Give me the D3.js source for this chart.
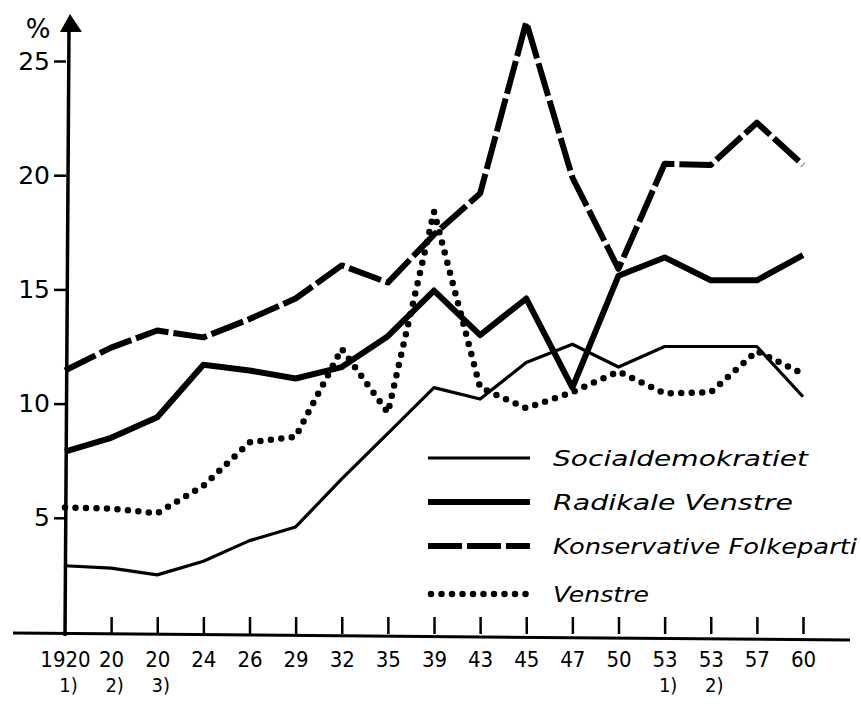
<!DOCTYPE html>
<html>
<head>
<meta charset="utf-8">
<script src="https://cdn.jsdelivr.net/npm/d3@7"></script>
<style>
  body { margin: 0; background: #fff; }
  svg { display: block; }
  .tick text { font-family: "DejaVu Sans", sans-serif; fill: #000; }
  .x-label { font-family: "DejaVu Sans Condensed", "DejaVu Sans", sans-serif; font-stretch: condensed; }
  .legend-label { font-family: "DejaVu Sans", sans-serif; font-style: italic; font-size: 21px; }
</style>
</head>
<body>
<svg id="chart" width="861" height="704"></svg>
<script>
// election years (with sub-election notes)
const years = ['1920', '20', '20', '24', '26', '29', '32', '35', '39', '43', '45', '47', '50', '53', '53', '57', '60']
const notes = ['1)', '2)', '3)', '', '', '', '', '', '', '', '', '', '', '1)', '2)', '', '']
const yTicks = [5, 10, 15, 20, 25]

// share of votes, %
const socialdemokratiet = [2.9, 2.8, 2.5, 3.1, 4.0, 4.6, 6.7, 8.7, 10.7, 10.2, 11.8, 12.6, 11.6, 12.5, 12.5, 12.5, 10.3]
const radikaleVenstre = [7.9, 8.5, 9.4, 11.7, 11.45, 11.1, 11.6, 12.95, 14.95, 13.0, 14.6, 10.7, 15.6, 16.4, 15.4, 15.4, 16.5]
const konservative = [11.45, 12.45, 13.2, 12.9, 13.7, 14.6, 16.05, 15.3, 17.4, 19.2, 26.7, 19.9, 15.9, 20.5, 20.45, 22.3, 20.45]
const venstre = [5.45, 5.4, 5.2, 6.4, 8.3, 8.55, 12.4, 9.6, 18.4, 10.7, 9.8, 10.5, 11.4, 10.45, 10.5, 12.3, 11.3]

const series = [
    { name: 'Socialdemokratiet', values: socialdemokratiet, width: 3.2, dash: null, cap: 'butt' },
    { name: 'Radikale Venstre', values: radikaleVenstre, width: 6, dash: null, cap: 'butt' },
    { name: 'Konservative Folkeparti', values: konservative, width: 6, dash: '34 5', cap: 'butt' },
    { name: 'Venstre', values: venstre, width: 6.5, dash: '0 10.5', cap: 'round' }
]

const svg = d3.select('#chart')
const idx = d3.range(years.length)

const x = d3.scalePoint().domain(idx).range([65, 803])
const y = d3.scaleLinear().domain([0, 25]).range([632, 61])

// x axis, ticks pointing up
const xAxis = d3.axisBottom(x)
    .tickSizeInner(-17)
    .tickSizeOuter(0)
    .tickPadding(0)
    .tickFormat(i => years[i])

const gx = svg.append('g')
    .attr('transform', 'translate(0,634)')
    .call(xAxis)
gx.select('.domain').remove()
gx.selectAll('.tick line').attr('stroke', '#000').attr('stroke-width', 2.5)
gx.selectAll('.tick text')
    .attr('class', 'x-label')
    .attr('font-size', 22)
    .attr('y', 33)
    .attr('dy', 0)
gx.selectAll('.tick').filter(i => i === 0).select('line').remove()
gx.selectAll('.tick').append('text')
    .attr('class', 'x-label')
    .attr('y', 58)
    .attr('font-size', 20)
    .attr('text-anchor', 'middle')
    .attr('dx', 3)
    .text(i => notes[i])

svg.append('line')
    .attr('x1', 13).attr('x2', 850)
    .attr('y1', 633).attr('y2', 640)
    .attr('stroke', '#000').attr('stroke-width', 3)

// y axis
const yAxis = d3.axisLeft(y)
    .tickValues(yTicks)
    .tickSizeInner(12)
    .tickSizeOuter(0)
    .tickPadding(4)

const gy = svg.append('g')
    .attr('transform', 'translate(66,0)')
    .call(yAxis)
gy.select('.domain').remove()
gy.selectAll('.tick line').attr('stroke', '#000').attr('stroke-width', 2.5)
gy.selectAll('.tick text').attr('font-size', 25)

svg.append('line')
    .attr('x1', 65).attr('x2', 69)
    .attr('y1', 636).attr('y2', 28)
    .attr('stroke', '#000').attr('stroke-width', 3.5)
svg.append('path')
    .attr('d', 'M70,14 L60,32 L82,32 Z')
    .attr('fill', '#000')
svg.append('text')
    .attr('x', 38).attr('y', 38)
    .attr('text-anchor', 'middle')
    .attr('font-family', 'DejaVu Sans, sans-serif')
    .attr('font-size', 26)
    .text('%')

// series lines
const line = d3.line()
    .x((d, i) => x(i))
    .y(d => y(d))

svg.append('g')
    .selectAll('path')
    .data(series)
    .join('path')
    .attr('d', d => line(d.values))
    .attr('fill', 'none')
    .attr('stroke', '#000')
    .attr('stroke-width', d => d.width)
    .attr('stroke-dasharray', d => d.dash)
    .attr('stroke-linecap', d => d.cap)
    .attr('stroke-linejoin', 'round')

// legend
const legendRows = [458, 502, 546, 594]
const legendWidths = [255, 240, 304, 96]
const legend = svg.append('g')
    .selectAll('g')
    .data(series)
    .join('g')
    .attr('transform', (d, i) => `translate(0,${legendRows[i]})`)

legend.append('line')
    .attr('x1', d => d.cap === 'round' ? 431 : 428)
    .attr('x2', 530)
    .attr('stroke', '#000')
    .attr('stroke-width', d => d.width)
    .attr('stroke-dasharray', d => d.dash)
    .attr('stroke-linecap', d => d.cap)

legend.append('text')
    .attr('class', 'legend-label')
    .attr('x', 553)
    .attr('y', 8)
    .attr('textLength', (d, i) => legendWidths[i])
    .attr('lengthAdjust', 'spacingAndGlyphs')
    .text(d => d.name)
</script>
</body>
</html>
